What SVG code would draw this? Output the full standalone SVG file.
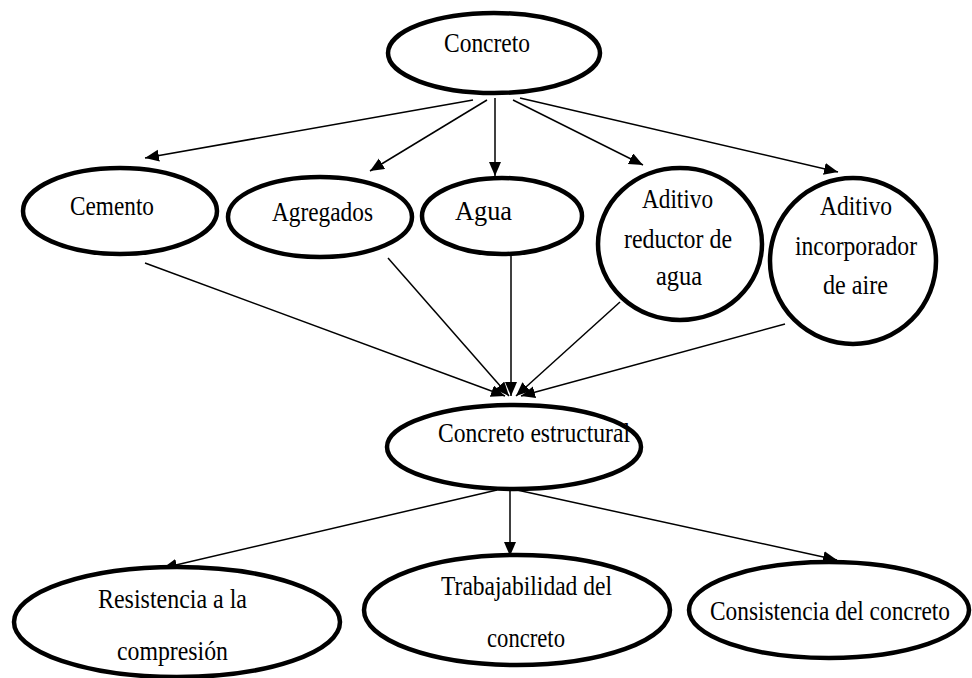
<svg xmlns="http://www.w3.org/2000/svg" width="972" height="678" viewBox="0 0 972 678">
<style>
.n ellipse{fill:#fff;stroke:#000;stroke-width:4.5}
.n text{font-family:'Liberation Serif','DejaVu Serif',serif;font-size:28px;fill:#000}
.c line{stroke:#000;stroke-width:1.5}
</style>
<defs>
<marker id="a" markerUnits="userSpaceOnUse" markerWidth="16" markerHeight="14" refX="14" refY="6" orient="auto">
<path d="M0,0 L14,6 L0,12 Z" fill="#000"/>
</marker>
</defs>
<rect width="972" height="678" fill="#fff"/>
<g class="c">
<line x1="473" y1="100" x2="145" y2="158" marker-end="url(#a)"/>
<line x1="487" y1="100" x2="370" y2="171" marker-end="url(#a)"/>
<line x1="495" y1="98" x2="495" y2="176" marker-end="url(#a)"/>
<line x1="513" y1="100" x2="643" y2="165" marker-end="url(#a)"/>
<line x1="520" y1="98" x2="838" y2="172" marker-end="url(#a)"/>
<line x1="145" y1="263" x2="505" y2="396" marker-end="url(#a)"/>
<line x1="388" y1="258" x2="509" y2="396" marker-end="url(#a)"/>
<line x1="511" y1="256" x2="511" y2="396" marker-end="url(#a)"/>
<line x1="620" y1="302" x2="516" y2="396" marker-end="url(#a)"/>
<line x1="785" y1="324" x2="521" y2="396" marker-end="url(#a)"/>
<line x1="497" y1="490" x2="163" y2="568" marker-end="url(#a)"/>
<line x1="510" y1="490" x2="510" y2="556" marker-end="url(#a)"/>
<line x1="517" y1="490" x2="837" y2="560" marker-end="url(#a)"/>
</g>
<g class="n" id="concreto"><ellipse cx="494" cy="53" rx="106" ry="40"/><text x="444" y="52" textLength="86" lengthAdjust="spacingAndGlyphs">Concreto</text></g>
<g class="n" id="cemento"><ellipse cx="120" cy="211" rx="97" ry="43"/><text x="70" y="215" textLength="84" lengthAdjust="spacingAndGlyphs">Cemento</text></g>
<g class="n" id="agregados"><ellipse cx="320" cy="217" rx="92" ry="40"/><text x="272" y="221" textLength="101" lengthAdjust="spacingAndGlyphs">Agregados</text></g>
<g class="n" id="agua"><ellipse cx="502" cy="216" rx="80" ry="38"/><text x="455" y="220" textLength="57" lengthAdjust="spacingAndGlyphs">Agua</text></g>
<g class="n" id="reductor"><ellipse cx="680" cy="244" rx="82" ry="76"/>
<text x="642" y="208" textLength="71" lengthAdjust="spacingAndGlyphs">Aditivo</text>
<text x="624" y="248" textLength="108" lengthAdjust="spacingAndGlyphs">reductor de</text>
<text x="656" y="285" textLength="46" lengthAdjust="spacingAndGlyphs">agua</text></g>
<g class="n" id="incorporador"><ellipse cx="853" cy="261" rx="83" ry="83"/>
<text x="820" y="215" textLength="72" lengthAdjust="spacingAndGlyphs">Aditivo</text>
<text x="795" y="255" textLength="122" lengthAdjust="spacingAndGlyphs">incorporador</text>
<text x="823" y="294" textLength="65" lengthAdjust="spacingAndGlyphs">de aire</text></g>
<g class="n" id="estructural"><ellipse cx="514" cy="447" rx="127" ry="42"/><text x="438" y="442" textLength="192" lengthAdjust="spacingAndGlyphs">Concreto estructural</text></g>
<g class="n" id="resistencia"><ellipse cx="177" cy="622" rx="163" ry="55"/>
<text x="98" y="608" textLength="149" lengthAdjust="spacingAndGlyphs">Resistencia a la</text>
<text x="117" y="660" textLength="111" lengthAdjust="spacingAndGlyphs">compresión</text></g>
<g class="n" id="trabajabilidad"><ellipse cx="517" cy="610" rx="153" ry="55"/>
<text x="441" y="595" textLength="171" lengthAdjust="spacingAndGlyphs">Trabajabilidad del</text>
<text x="487" y="647" textLength="78" lengthAdjust="spacingAndGlyphs">concreto</text></g>
<g class="n" id="consistencia"><ellipse cx="829" cy="610" rx="140" ry="48"/><text x="710" y="620" textLength="240" lengthAdjust="spacingAndGlyphs">Consistencia del concreto</text></g>
</svg>
